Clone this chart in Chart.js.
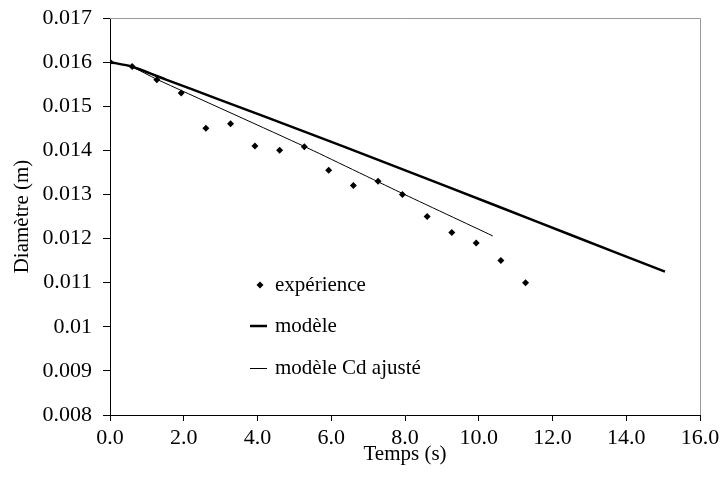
<!DOCTYPE html>
<html>
<head>
<meta charset="utf-8">
<script src="https://cdn.jsdelivr.net/npm/chart.js@4"></script>
<style>
  body { margin: 0; background: #fff; }
  #wrap { width: 722px; height: 485px; }
</style>
</head>
<body>
<div id="wrap"><canvas id="chart" width="722" height="485"></canvas></div>
<script>
const expTime = [0, 0.6, 1.27, 1.93, 2.6, 3.27, 3.93, 4.6, 5.27, 5.93, 6.6, 7.27, 7.93, 8.6, 9.27, 9.93, 10.6, 11.27];
const expDiam = [0.0160, 0.0159, 0.0156, 0.0153, 0.0145, 0.0146, 0.0141, 0.0140, 0.01408, 0.01355, 0.0132, 0.0133, 0.0130, 0.0125, 0.01214, 0.0119, 0.0115, 0.0110];

const modelTime = [0, 0.59, 1.5, 3, 5.29, 7.5, 10.58, 12.5, 15.05];
const modelDiam = [0.0160, 0.01590, 0.01561, 0.01514, 0.01442, 0.01371, 0.01271, 0.01208, 0.01125];

const cdTime = [0, 0.59, 1.27, 5.29, 7.86, 10.38];
const cdDiam = [0.0160, 0.01589, 0.01561, 0.01408, 0.01305, 0.01206];

const labels = ["expérience", "modèle", "modèle Cd ajusté"];

const FONT = "'Liberation Serif', 'Times New Roman', serif";

function pts(xs, ys) {
  return xs.map((x, i) => ({ x: x, y: ys[i] }));
}

// legend drawn inside the plot area, and the grey frame on top/right
const framePlugin = {
  id: "frame",
  afterDraw(chart) {
    const ctx = chart.ctx;
    const a = chart.chartArea;
    ctx.save();
    ctx.strokeStyle = "#9a9a9a";
    ctx.lineWidth = 1;
    ctx.beginPath();
    ctx.moveTo(a.left, a.top + 0.5);
    ctx.lineTo(a.right + 0.5, a.top + 0.5);
    ctx.lineTo(a.right + 0.5, a.bottom);
    ctx.stroke();

    const lx = a.left + 140;
    const tx = a.left + 165;
    const rows = [a.top + 267, a.top + 308, a.top + 350];
    ctx.fillStyle = "#000";
    ctx.strokeStyle = "#000";
    // diamond
    ctx.beginPath();
    ctx.moveTo(lx + 10, rows[0] - 3.5);
    ctx.lineTo(lx + 13.5, rows[0]);
    ctx.lineTo(lx + 10, rows[0] + 3.5);
    ctx.lineTo(lx + 6.5, rows[0]);
    ctx.closePath();
    ctx.fill();
    ctx.lineWidth = 2.5;
    ctx.beginPath();
    ctx.moveTo(lx, rows[1]);
    ctx.lineTo(lx + 17, rows[1]);
    ctx.stroke();
    ctx.lineWidth = 1;
    ctx.beginPath();
    ctx.moveTo(lx, rows[2] + 0.5);
    ctx.lineTo(lx + 17, rows[2] + 0.5);
    ctx.stroke();
    ctx.font = "21px " + FONT;
    ctx.textBaseline = "middle";
    labels.forEach((t, i) => ctx.fillText(t, tx, rows[i]));
    ctx.restore();
  },
};

new Chart(document.getElementById("chart"), {
  type: "scatter",
  data: {
    datasets: [
      {
        label: labels[0],
        data: pts(expTime, expDiam),
        pointStyle: "rectRot",
        pointRadius: 3.5,
        backgroundColor: "#000",
        borderColor: "#000",
        borderWidth: 0,
        showLine: false,
      },
      {
        label: labels[1],
        data: pts(modelTime, modelDiam),
        showLine: true,
        borderColor: "#000",
        borderWidth: 2.5,
        pointRadius: 0,
        tension: 0.2,
      },
      {
        label: labels[2],
        data: pts(cdTime, cdDiam),
        showLine: true,
        borderColor: "#000",
        borderWidth: 1,
        pointRadius: 0,
        tension: 0.2,
      },
    ],
  },
  options: {
    responsive: false,
    animation: false,
    layout: { padding: { left: 0, right: 22, top: 18, bottom: 0 } },
    plugins: {
      legend: { display: false },
      tooltip: { enabled: false },
    },
    scales: {
      x: {
        type: "linear",
        min: 0,
        max: 16,
        afterFit: (s) => { s.height = 70; s.paddingLeft = 0; s.paddingRight = 0; },
        border: { color: "#000", width: 1 },
        grid: { drawOnChartArea: false, drawTicks: true, tickLength: 6, color: "#000" },
        ticks: {
          stepSize: 2,
          padding: 4,
          color: "#000",
          font: { family: FONT, size: 22 },
          maxRotation: 0,
          callback: (v) => v.toFixed(1),
        },
        title: {
          display: true,
          text: "Temps (s)",
          color: "#000",
          font: { family: FONT, size: 21, lineHeight: 1 },
          padding: { top: 0, bottom: 20 },
        },
      },
      y: {
        min: 0.008,
        max: 0.017,
        afterFit: (s) => { s.width = 110; s.paddingTop = 0; s.paddingBottom = 0; },
        border: { color: "#000", width: 1 },
        grid: { drawOnChartArea: false, drawTicks: true, tickLength: 7, color: "#000" },
        ticks: {
          stepSize: 0.001,
          padding: 11,
          color: "#000",
          font: { family: FONT, size: 22 },
          callback: (v) => String(parseFloat(v.toFixed(3))),
        },
        title: {
          display: true,
          text: "Diamètre (m)",
          color: "#000",
          font: { family: FONT, size: 21, lineHeight: 1 },
          padding: { top: 12, bottom: 0 },
        },
      },
    },
  },
  plugins: [framePlugin],
});
</script>
</body>
</html>
